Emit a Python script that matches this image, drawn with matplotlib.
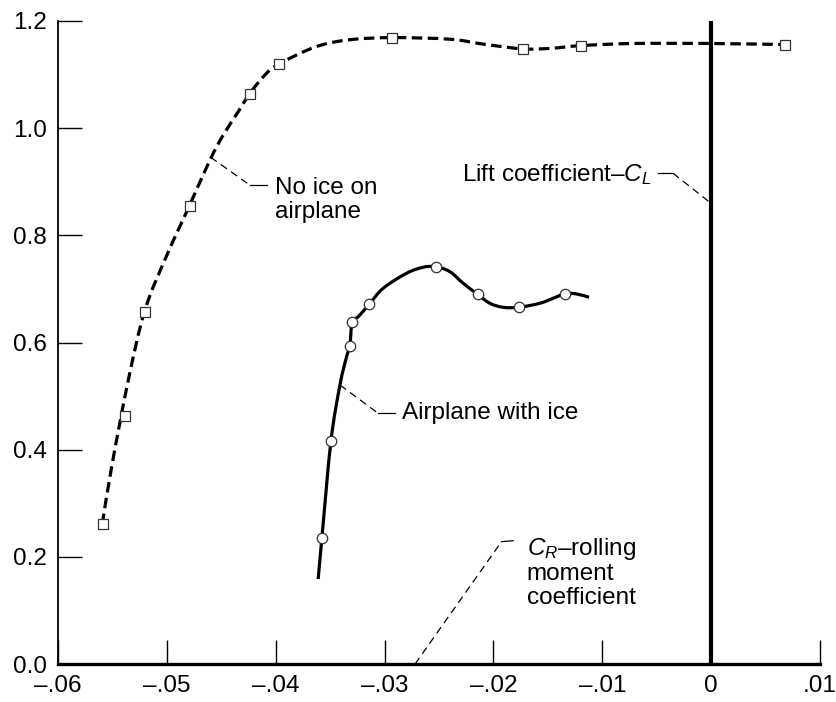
import matplotlib
matplotlib.use("Agg")
import matplotlib.pyplot as plt
from matplotlib.path import Path
from matplotlib.patches import PathPatch

plt.rcParams['font.family'] = ['Liberation Sans', 'DejaVu Sans']
plt.rcParams['mathtext.fontset'] = 'custom'
plt.rcParams['mathtext.rm'] = 'Liberation Sans'
plt.rcParams['mathtext.it'] = 'Liberation Sans:italic'

# measured points, no ice (squares)
noice_x = [-0.0559, -0.0538, -0.0520, -0.0479, -0.0424, -0.0397, -0.0293, -0.0173, -0.0120, 0.0068]
noice_y = [0.261, 0.462, 0.657, 0.855, 1.064, 1.119, 1.169, 1.148, 1.154, 1.156]

# faired curve through them
noice_curve_x = [-0.05593, -0.05507, -0.05354, -0.05201, -0.05002, -0.04794, -0.04604,
                 -0.04482, -0.04344, -0.04237, -0.04099, -0.0397, -0.0363, -0.0332,
                 -0.0293, -0.0240, -0.0210, -0.0173, -0.0147, -0.0120, -0.0072,
                 0.0000, 0.0068]
noice_curve_y = [0.2613, 0.3682, 0.5300, 0.6607, 0.762, 0.8548, 0.9406,
                 0.9873, 1.0308, 1.0651, 1.0993, 1.1198, 1.152, 1.165,
                 1.169, 1.166, 1.157, 1.148, 1.149, 1.154, 1.158,
                 1.158, 1.156]

# measured points, airplane with ice (circles)
ice_x = [-0.03576, -0.03493, -0.03319, -0.03298, -0.03141, -0.02529, -0.02146, -0.01764, -0.01341]
ice_y = [0.235, 0.4156, 0.5935, 0.6383, 0.6713, 0.7415, 0.6900, 0.6657, 0.6911]

ice_curve_x = [-0.0361, -0.03576, -0.03493, -0.0341, -0.03349, -0.03319, -0.03298, -0.03242,
               -0.03141, -0.03013, -0.02798, -0.02646, -0.02529, -0.02400, -0.02278,
               -0.02146, -0.02033, -0.01911, -0.01764, -0.01574, -0.01452, -0.01341,
               -0.01237, -0.01121]
ice_curve_y = [0.1586, 0.235, 0.4156, 0.5207, 0.5735, 0.5935, 0.6383, 0.6482,
               0.6713, 0.7012, 0.7292, 0.7404, 0.7415, 0.7322, 0.7105,
               0.6900, 0.6732, 0.6657, 0.6657, 0.6732, 0.6825, 0.6911,
               0.6906, 0.6844]

xticks = [-0.06, -0.05, -0.04, -0.03, -0.02, -0.01, 0.0, 0.01]
xtick_labels = ['\u2013.06', '\u2013.05', '\u2013.04', '\u2013.03', '\u2013.02', '\u2013.01', '0', '.01']
yticks = [0.0, 0.2, 0.4, 0.6, 0.8, 1.0, 1.2]
ytick_labels = ['0.0', '0.2', '0.4', '0.6', '0.8', '1.0', '1.2']


def faired_path(xs, ys):
    # smooth bezier path through the read points (catmull-rom style handles)
    pts = list(zip(xs, ys))
    n = len(pts)
    verts = [pts[0]]
    codes = [Path.MOVETO]
    for i in range(n - 1):
        p0 = pts[max(i - 1, 0)]
        p1 = pts[i]
        p2 = pts[i + 1]
        p3 = pts[min(i + 2, n - 1)]
        c1 = (p1[0] + (p2[0] - p0[0]) / 6, p1[1] + (p2[1] - p0[1]) / 6)
        c2 = (p2[0] - (p3[0] - p1[0]) / 6, p2[1] - (p3[1] - p1[1]) / 6)
        verts += [c1, c2, p2]
        codes += [Path.CURVE4] * 3
    return Path(verts, codes)


fig = plt.figure(figsize=(8.37, 7.02), dpi=100)
ax = fig.add_axes([0.0693, 0.0541, 0.9104, 0.9160])

ax.add_patch(PathPatch(faired_path(noice_curve_x, noice_curve_y), fill=False, edgecolor='black',
                       lw=2.3, linestyle=(0, (3.3, 1.7)), zorder=2))
ax.plot(noice_x, noice_y, linestyle='none', marker='s', markersize=7.5,
        markerfacecolor='white', markeredgecolor='#333333', markeredgewidth=0.9, zorder=3)

ax.add_patch(PathPatch(faired_path(ice_curve_x, ice_curve_y), fill=False, edgecolor='black',
                       lw=2.3, capstyle='butt', zorder=2))
ax.plot(ice_x, ice_y, linestyle='none', marker='o', markersize=7.5,
        markerfacecolor='white', markeredgecolor='#333333', markeredgewidth=0.9, zorder=3)

# rolling moment coefficient line at zero
ax.axvline(0.0, color='black', lw=3.0, zorder=2)

fs = 17.5
leader = dict(color='black', lw=0.9)

# "No ice on airplane"
ax.plot([-0.04598, -0.04237], [0.9457, 0.8937], linestyle=(0, (6, 4)), **leader)
ax.plot([-0.04237, -0.04084], [0.8937, 0.8937], **leader)
ax.text(-0.04007, 0.866, 'No ice on\nairplane', fontsize=fs, ha='left', va='center', linespacing=1.1)

# "Airplane with ice"
ax.plot([-0.03410, -0.03059], [0.5207, 0.4679], linestyle=(0, (6, 4)), **leader)
ax.plot([-0.03059, -0.02905], [0.4679, 0.4679], **leader)
ax.text(-0.02844, 0.4679, 'Airplane with ice', fontsize=fs, ha='left', va='center')

# "Lift coefficient - CL"
ax.plot([-0.00488, -0.00350], [0.9158, 0.9158], **leader)
ax.plot([-0.00350, -0.0002], [0.9158, 0.8628], linestyle=(0, (6, 4)), **leader)
ax.text(-0.00548, 0.9127, 'Lift coefficient\u2013$C_L$', fontsize=fs, ha='right', va='center')

# "CR - rolling moment coefficient"
ax.plot([-0.0272, -0.01926], [0.0, 0.2283], linestyle=(0, (6, 4)), **leader)
ax.plot([-0.01926, -0.01819], [0.2283, 0.2301], **leader)
ax.text(-0.01696, 0.1708, '$C_R$\u2013rolling\nmoment\ncoefficient', fontsize=fs,
        ha='left', va='center', linespacing=1.1)

ax.set_xlim(-0.06, 0.01)
ax.set_ylim(0.0, 1.2)
ax.set_xticks(xticks)
ax.set_xticklabels(xtick_labels)
ax.set_yticks(yticks)
ax.set_yticklabels(ytick_labels)
ax.tick_params(direction='in', length=17, width=1.0, labelsize=fs, pad=8)

ax.spines['top'].set_visible(False)
ax.spines['right'].set_visible(False)
ax.spines['left'].set_linewidth(1.3)
ax.spines['bottom'].set_linewidth(2.4)
ax.spines['bottom'].set_zorder(4)

fig.savefig('out.png', dpi=100)
